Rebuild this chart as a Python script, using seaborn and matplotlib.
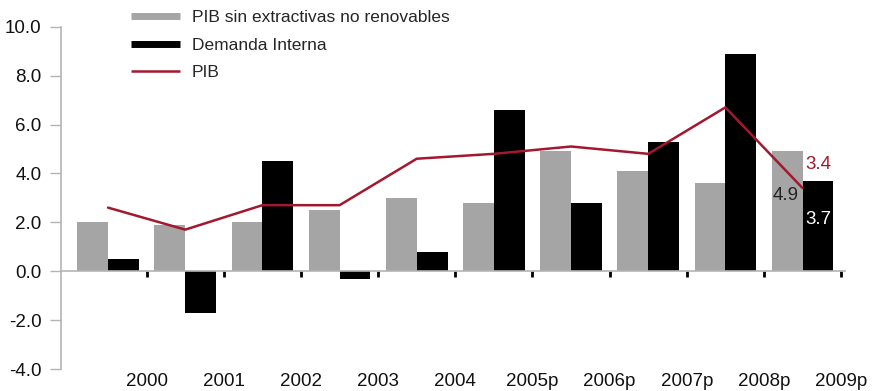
import numpy as np
import pandas as pd
import matplotlib
matplotlib.use("Agg")
import matplotlib.pyplot as plt
from matplotlib.lines import Line2D
import seaborn as sns

years = ["2000", "2001", "2002", "2003", "2004", "2005p", "2006p", "2007p", "2008p", "2009p"]
pib_sin_extractivas = [2.0, 1.9, 2.0, 2.5, 3.0, 2.8, 4.9, 4.1, 3.6, 4.9]
demanda_interna = [0.5, -1.7, 4.5, -0.3, 0.8, 6.6, 2.8, 5.3, 8.9, 3.7]
pib = [2.6, 1.7, 2.7, 2.7, 4.6, 4.8, 5.1, 4.8, 6.7, 3.4]
y_ticks = [-4.0, -2.0, 0.0, 2.0, 4.0, 6.0, 8.0, 10.0]

name_grey = "PIB sin extractivas no renovables"
name_black = "Demanda Interna"
name_line = "PIB"

GREY = "#a5a5a5"
BLACK = "#000000"
RED = "#a3182f"
AXIS_GREY = "#b4b4b4"

sns.set_style("white")
plt.rcParams["font.family"] = ["Liberation Sans", "DejaVu Sans"]
FS_LEGEND = 12.5
FS = 13.5

bars = pd.DataFrame({
    "year": years * 2,
    "serie": [name_grey] * len(years) + [name_black] * len(years),
    "valor": pib_sin_extractivas + demanda_interna,
})
line = pd.DataFrame({"pos": np.arange(len(years)), "valor": pib})

fig = plt.figure(figsize=(8.74, 3.91), dpi=100)
ax = fig.add_axes([61 / 874, 1 - 369 / 391, (845 - 61) / 874, (369 - 26.7) / 391])

sns.barplot(data=bars, x="year", y="valor", hue="serie", order=years,
            hue_order=[name_grey, name_black], palette=[GREY, BLACK],
            width=0.8, linewidth=0, saturation=1, legend=False, ax=ax)
sns.lineplot(data=line, x="pos", y="valor", color=RED, linewidth=1.8,
             legend=False, ax=ax)

ax.set_xlim(-0.61, 9.55)
ax.set_ylim(-4, 10)
ax.set_xlabel("")
ax.set_ylabel("")

# y axis
ax.set_yticks(y_ticks)
ax.set_yticklabels([f"{v:.1f}" for v in y_ticks], fontsize=FS)
ax.tick_params(axis="y", direction="out", length=8, width=1, color=AXIS_GREY,
               pad=6, left=True, labelcolor="#111111")

# x axis: spine on zero, labels set well below at group boundaries
ax.spines["bottom"].set_position(("data", 0))
ax.set_xticks(np.arange(len(years)) + 0.5)
ax.set_xticklabels(years, fontsize=FS)
ax.tick_params(axis="x", direction="out", length=4, width=2, color=BLACK,
               pad=69, bottom=True, labelcolor="#111111")

for side in ["top", "right"]:
    ax.spines[side].set_visible(False)
for side in ["left", "bottom"]:
    ax.spines[side].set_color(AXIS_GREY)
    ax.spines[side].set_linewidth(1.2)
ax.grid(False)

# value labels on the last group
last = len(years) - 1
ax.text(last - 0.22, pib_sin_extractivas[last] - 1.8, f"{pib_sin_extractivas[last]:.1f}",
        ha="center", va="center", fontsize=FS, color="#222222")
ax.text(last + 0.2, demanda_interna[last] - 1.58, f"{demanda_interna[last]:.1f}",
        ha="center", va="center", fontsize=FS, color="white")
ax.text(last + 0.2, pib[last] + 0.96, f"{pib[last]:.1f}",
        ha="center", va="center", fontsize=FS, color=RED)

handles = [
    Line2D([0], [0], color=GREY, lw=5, solid_capstyle="butt"),
    Line2D([0], [0], color=BLACK, lw=5, solid_capstyle="butt"),
    Line2D([0], [0], color=RED, lw=1.8, solid_capstyle="butt"),
]
fig.legend(handles, [name_grey, name_black, name_line], loc="upper left",
           bbox_to_anchor=(131 / 874, 1 - 10 / 391), frameon=False, fontsize=FS_LEGEND,
           handlelength=2.8, handletextpad=0.7, labelspacing=0.72, borderpad=0,
           borderaxespad=0)

fig.savefig("out.png", dpi=100)
